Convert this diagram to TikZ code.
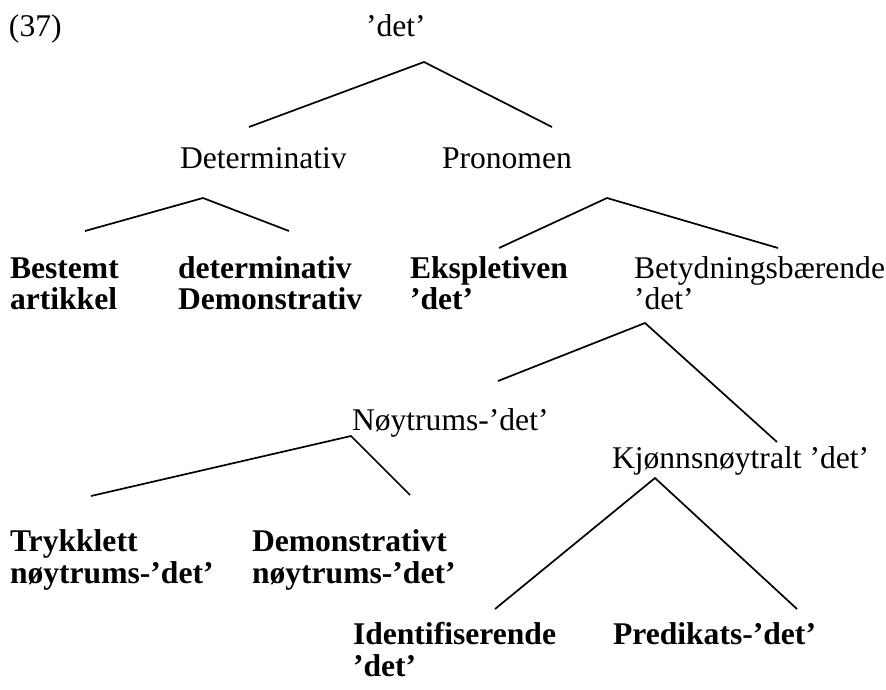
\documentclass[tikz,border=0pt]{standalone}
\usepackage{fontspec}
\setmainfont{Liberation Serif}
\begin{document}
\begin{tikzpicture}[x=1pt,y=-1pt,
  lbl/.style={anchor=base west,inner sep=0pt,outer sep=0pt,align=left,
    font=\fontsize{31.6}{31.5}\selectfont},
  blbl/.style={lbl,font=\fontsize{31.6}{31.5}\selectfont\bfseries},
  branch/.style={line width=1.7pt}]
\useasboundingbox (0,0) rectangle (886,689);
% labels (for two-line labels the given y is the baseline of the last line)
\node[lbl] (num) at (9,36) {(37)};
\node[lbl] (root) at (366,36) {’det’};
\node[lbl] (detm) at (180,168) {Determinativ};
\node[lbl] (pron) at (442,168) {Pronomen};
\node[blbl] (best) at (10,309.5) {Bestemt\\artikkel};
\node[blbl] (demo) at (178,309.5) {determinativ\\Demonstrativ};
\node[blbl] (eksp) at (410,309.5) {Ekspletiven\\’det’};
\node[lbl] (bety) at (634,309.5) {Betydningsbærende\\’det’};
\node[lbl] (noyt) at (352,430) {Nøytrums-’det’};
\node[lbl] (kjon) at (612,468) {Kjønnsnøytralt ’det’};
\node[blbl] (tryk) at (10,583) {Trykklett\\nøytrums-’det’};
\node[blbl] (dnoy) at (252,583) {Demonstrativt\\nøytrums-’det’};
\node[blbl] (iden) at (353,676) {Identifiserende\\’det’};
\node[blbl] (pred) at (613,644.5) {Predikats-’det’};
% branch points
\coordinate (r0) at (424,62);  \coordinate (r1) at (249,127); \coordinate (r2) at (552,127);
\coordinate (d0) at (203,198); \coordinate (d1) at (85,231);  \coordinate (d2) at (289,231);
\coordinate (p0) at (607,198); \coordinate (p1) at (499,248); \coordinate (p2) at (778,248);
\coordinate (b0) at (645,323); \coordinate (b1) at (498,381); \coordinate (b2) at (777,442);
\coordinate (n0) at (351,436); \coordinate (n1) at (91,496);  \coordinate (n2) at (410,495);
\coordinate (k0) at (655,478); \coordinate (k1) at (495,609); \coordinate (k2) at (797,609);
\draw[branch] (r1) -- (r0) -- (r2);
\draw[branch] (d1) -- (d0) -- (d2);
\draw[branch] (p1) -- (p0) -- (p2);
\draw[branch] (b1) -- (b0) -- (b2);
\draw[branch] (n1) -- (n0) -- (n2);
\draw[branch] (k1) -- (k0) -- (k2);
\end{tikzpicture}
\end{document}
